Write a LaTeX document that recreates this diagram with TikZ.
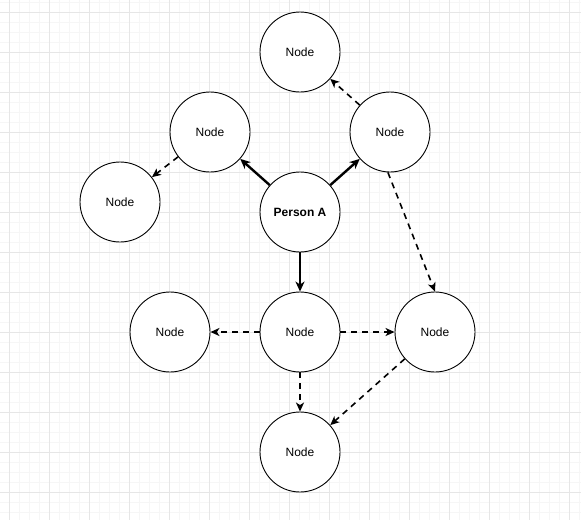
\documentclass[tikz,border=0pt]{standalone}
\usepackage{fontspec}
\setmainfont{Liberation Sans}
\usepackage{xcolor}
\usetikzlibrary{arrows.meta}

\definecolor{gridminor}{HTML}{F6F6F6}
\definecolor{gridmajor}{HTML}{E6E6E6}

\tikzset{
  person/.style={circle, draw=black, line width=0.9pt, fill=white,
    minimum size=80pt, inner sep=0pt, font=\fontsize{12}{14}\selectfont},
  link/.style={line width=2.4pt, -{Stealth[length=10pt, width=9pt, inset=3pt]}},
  dlink/.style={line width=1.6pt, dash pattern=on 6pt off 5pt,
    -{Stealth[length=9pt, width=8pt, inset=2.5pt]}}
}

\begin{document}
\begin{tikzpicture}[x=1pt, y=-1pt]
  \useasboundingbox (0,0) rectangle (581,520);
  \fill[white] (0,0) rectangle (581,520);
  % Grid
  \foreach \x in {9,19,...,579} \draw[gridminor, line width=0.8pt] (\x,0) -- (\x,520);
  \foreach \y in {2,12,...,512} \draw[gridminor, line width=0.8pt] (0,\y) -- (581,\y);
  \foreach \x in {9,49,...,569} \draw[gridmajor, line width=0.9pt] (\x,0) -- (\x,520);
  \foreach \y in {12,52,...,492} \draw[gridmajor, line width=0.9pt] (0,\y) -- (581,\y);
  % Nodes
  \node[person] (pa) at (300,212) {\textbf{Person A}};
  \node[person] (top) at (300,52) {Node};
  \node[person] (upleft) at (210,132) {Node};
  \node[person] (upright) at (390,132) {Node};
  \node[person] (farleft) at (120,202) {Node};
  \node[person] (mid) at (300,332) {Node};
  \node[person] (midleft) at (170,332) {Node};
  \node[person] (right) at (435,332) {Node};
  \node[person] (bottom) at (300,452) {Node};
  % Person A links
  \draw[link] (pa) -- (upleft);
  \draw[link] (pa) -- (upright);
  \draw[link] (pa) -- (mid);
  % Dashed links
  \draw[dlink] (upleft) -- (farleft);
  \draw[dlink] (upright) -- (top);
  \draw[dlink] (upright.267) -- (right.north);
  \draw[dlink] (mid) -- (midleft);
  \draw[dlink] (mid) -- (right);
  \draw[dlink] (mid) -- (bottom);
  \draw[dlink] (right) -- (bottom);
\end{tikzpicture}
\end{document}
